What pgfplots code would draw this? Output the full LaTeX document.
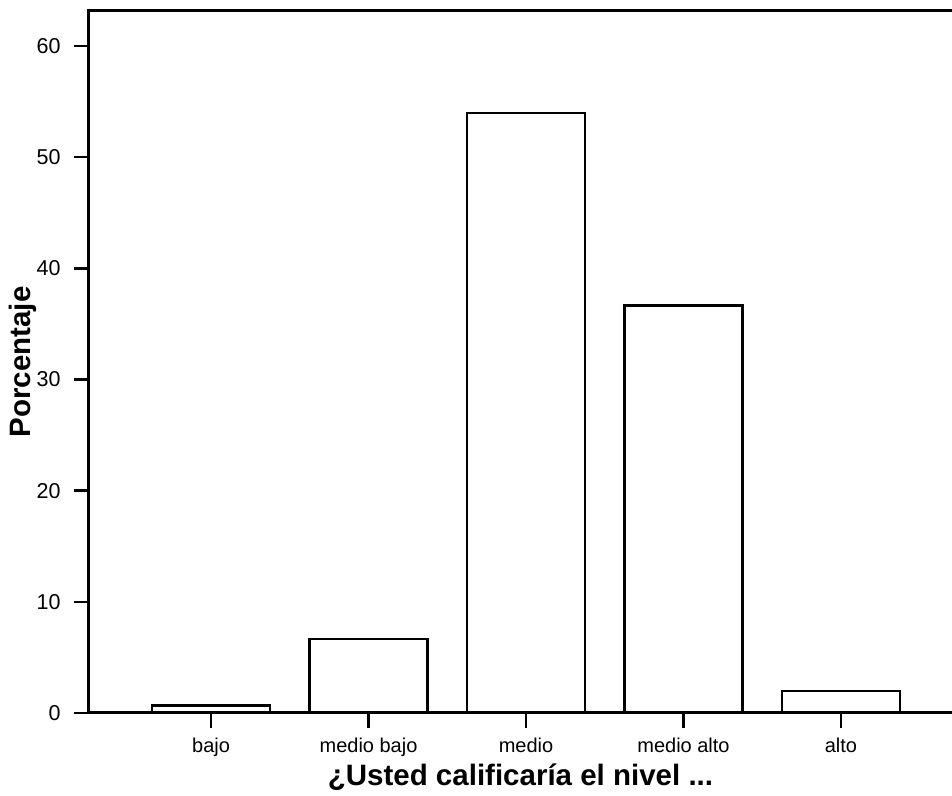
\documentclass[border=0pt]{standalone}
\usepackage{fontspec}
\setmainfont{Liberation Sans}
\usepackage{pgfplots}
\pgfplotsset{compat=1.18}
\begin{document}
\begin{tikzpicture}
\begin{axis}[
  scale only axis, width=863pt, height=702pt,
  xmin=-0.775, xmax=4.705, ymin=0, ymax=63.15,
  axis line style={draw=none},
  tick align=outside, major tick length=15pt,
  xtick pos=lower, ytick pos=left,
  xtick={0,1,2,3,4},
  xticklabels={bajo,medio bajo,medio,medio alto,alto},
  ytick={0,10,20,30,40,50,60},
  tick style={black, line width=2.5pt},
  /pgf/number format/assume math mode=true,
  xticklabel style={font=\fontsize{20}{24}\selectfont, yshift=-6pt},
  yticklabel style={font=\fontsize{21.5}{24}\selectfont, xshift=-10pt},
  xlabel={¿Usted calificaría el nivel ...},
  ylabel={Porcentaje},
  xlabel style={font=\fontsize{29.5}{34}\bfseries, at={(axis description cs:0.5,0)}, anchor=center, yshift=-64pt},
  ylabel style={font=\fontsize{29.5}{34}\bfseries, at={(axis description cs:0,0.5)}, anchor=center, yshift=66pt},
  clip=false,
]
\addplot[ybar, bar width=118pt, fill=white, draw=black, line width=2.3pt]
  coordinates {(0,0.67) (1,6.67) (2,54.0) (3,36.67) (4,2.0)};
\draw[black, line width=3pt, line cap=rect] (rel axis cs:1,1) -- (rel axis cs:0,1) -- (rel axis cs:0,0) -- (rel axis cs:1,0);
\coordinate (sw) at (rel axis cs:0,0);
\coordinate (ne) at (rel axis cs:1,1);
\end{axis}
\pgfresetboundingbox
\path ([shift={(-89pt,-83pt)}]sw) rectangle ([shift={(0pt,11pt)}]ne);
\end{tikzpicture}
\end{document}
